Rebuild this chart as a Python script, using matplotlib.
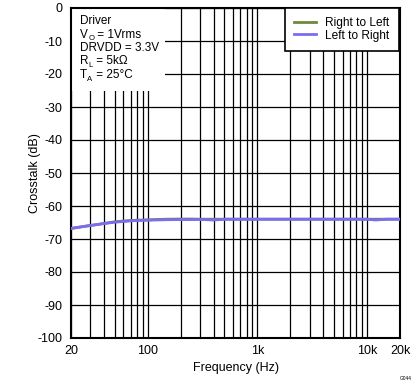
import matplotlib
matplotlib.use("Agg")
import matplotlib.pyplot as plt
from matplotlib.patches import Rectangle
from matplotlib.ticker import FixedLocator, NullFormatter

plt.rcParams['font.family'] = ['Liberation Sans', 'DejaVu Sans']
plt.rcParams['axes.unicode_minus'] = False

freq = [20, 25, 30, 35, 40, 50, 60, 70, 80, 100, 130, 150, 200, 250, 300, 400, 500,
        700, 1000, 2000, 5000, 10000, 12000, 15000, 20000]
left_to_right = [-66.8, -66.3, -65.9, -65.6, -65.3, -64.9, -64.7, -64.5, -64.4, -64.3,
                 -64.2, -64.15, -64.1, -64.1, -64.05, -64.25, -64.0, -64.0, -64.0, -64.0,
                 -64.0, -64.0, -64.25, -64.0, -64.0]
right_to_left = [-66.8, -66.3, -65.9, -65.6, -65.3, -64.8, -64.55, -64.4, -64.3, -64.2,
                 -64.05, -64.0, -63.95, -63.95, -64.0, -64.0, -64.0, -64.0, -64.0, -64.0,
                 -64.0, -64.0, -64.0, -64.0, -64.0]

xtick_vals = [20, 100, 1000, 10000, 20000]
xtick_labels = ["20", "100", "1k", "10k", "20k"]
ytick_vals = list(range(-100, 1, 10))

# condition lines: (main, subscript, rest)
cond_lines = [("Driver", "", ""), ("V", "O", " = 1Vrms"), ("DRVDD = 3.3V", "", ""),
              ("R", "L", " = 5kΩ"), ("T", "A", " = 25°C")]

fig = plt.figure(figsize=(4.19, 3.82), dpi=100)
ax = fig.add_axes([71/419, 1-338/382, 329/419, 330/382])

ax.plot(freq, right_to_left, color='#6f8a3a', lw=2, label='Right to Left', zorder=3)
ax.plot(freq, left_to_right, color='#7b6cf0', lw=2, label='Left to Right', zorder=4)

ax.set_xscale('log')
ax.set_xlim(20, 20000)
ax.set_ylim(-100, 0)

grid_x = [v*d for d in (10, 100, 1000) for v in range(1, 10)] + [10000, 20000]
grid_x = [g for g in grid_x if 20 <= g <= 20000]
ax.xaxis.set_major_locator(FixedLocator(xtick_vals))
ax.set_xticklabels(xtick_labels)
ax.xaxis.set_minor_locator(FixedLocator(grid_x))
ax.xaxis.set_minor_formatter(NullFormatter())
ax.set_yticks(ytick_vals)
ax.tick_params(axis='both', which='both', length=0, labelsize=9, colors='black')
ax.tick_params(axis='x', pad=5)
ax.tick_params(axis='y', pad=6)
ax.grid(True, which='both', axis='x', color='black', lw=0.9, zorder=1)
ax.grid(True, which='major', axis='y', color='black', lw=0.9, zorder=1)
ax.set_axisbelow(True)
for s in ax.spines.values():
    s.set_linewidth(1.5)
    s.set_color('black')

ax.set_xlabel('Frequency (Hz)', fontsize=9, labelpad=4)
ax.set_ylabel('Crosstalk (dB)', fontsize=9)
ax.yaxis.set_label_coords(-30/329, 0.5)

ax.add_patch(Rectangle((0.0, 0.75), 0.285, 0.25, transform=ax.transAxes,
                       facecolor='white', edgecolor='none', zorder=2))
fs = 8.5
for i, (main, sub, rest) in enumerate(cond_lines):
    y = 1 - (19 + 13.5*i)/330
    t = ax.text(9/329, y, main, transform=ax.transAxes, fontsize=fs,
                va='bottom', ha='left', zorder=5)
    if sub:
        s = ax.annotate(sub, xy=(1, 0), xycoords=t, xytext=(0.2, -1.4),
                        textcoords='offset points', fontsize=5.6,
                        va='bottom', ha='left', zorder=5)
        ax.annotate(rest, xy=(1, 0), xycoords=s, xytext=(0, 1.4),
                    textcoords='offset points', fontsize=fs,
                    va='bottom', ha='left', zorder=5)

leg = ax.legend(loc='upper right', fontsize=8.6, fancybox=False, framealpha=1,
                edgecolor='black', bbox_to_anchor=(1 - 1.5/329, 1.0),
                borderaxespad=0.0, handlelength=1.9, handletextpad=0.75,
                labelspacing=0.05, borderpad=0.75)
leg.get_frame().set_linewidth(1.2)
leg.set_zorder(6)

fig.text(412/419, 1-378/382, "G044", fontsize=3.5, ha='right', va='center')

fig.savefig('out.png', dpi=100)
